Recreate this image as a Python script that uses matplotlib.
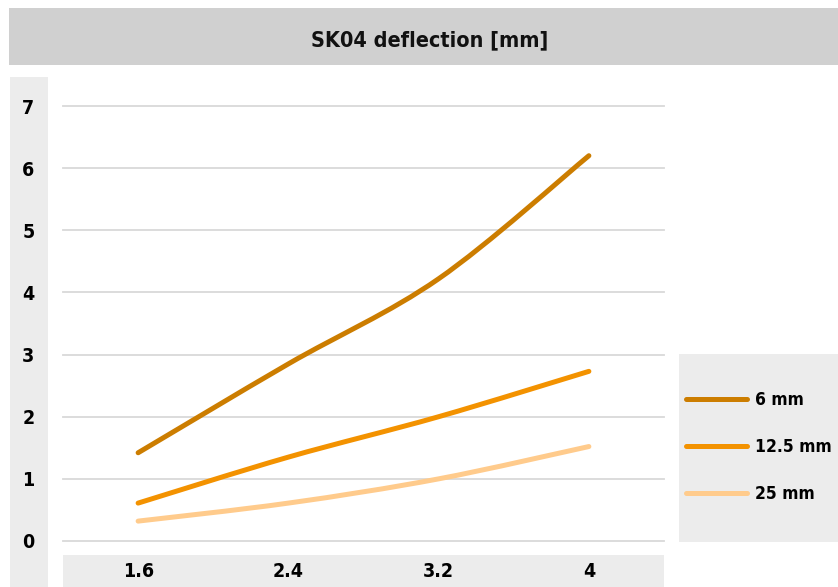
import matplotlib
matplotlib.use('Agg')
import matplotlib.pyplot as plt
from matplotlib.path import Path
from matplotlib.patches import PathPatch, Rectangle
from matplotlib.lines import Line2D
import numpy as np

# ---- data ----
categories = ['1.6', '2.4', '3.2', '4']
s_6mm = [1.42, 2.85, 4.22, 6.20]
s_12mm = [0.61, 1.35, 2.00, 2.73]
s_25mm = [0.32, 0.61, 1.00, 1.52]
series_names = ['6 mm', '12.5 mm', '25 mm']
y_ticks = [0, 1, 2, 3, 4, 5, 6, 7]
title = 'SK04 deflection [mm]'

colors = ['#CC7D00', '#F39200', '#FFCB8C']

plt.rcParams['font.family'] = ['DejaVu Sans']
plt.rcParams['font.stretch'] = 'condensed'
plt.rcParams['font.weight'] = 'bold'

W, H = 838, 587
fig = plt.figure(figsize=(W / 100, H / 100), dpi=100)


def frect(x0, y0, x1, y1, color):
    fig.patches.append(Rectangle((x0 / W, 1 - y1 / H), (x1 - x0) / W, (y1 - y0) / H,
                                 transform=fig.transFigure, facecolor=color,
                                 edgecolor='none', zorder=-5))


frect(9, 8, 838, 65, '#D0D0D0')      # title band
frect(10, 77, 48, 587, '#ECECEC')    # y axis band
frect(63, 555, 664, 587, '#ECECEC')  # x axis band
frect(679, 354, 838, 542, '#ECECEC') # legend box

fig.text(430 / W, 1 - 40 / H, title, ha='center', va='center', fontsize=15.5,
         fontweight='bold', stretch='condensed', color='#111111')

ax = fig.add_axes([63 / W, 1 - 541 / H, 601 / W, 435 / H])
ax.set_facecolor('none')
ax.patch.set_alpha(0)
x = np.arange(len(categories))
ax.set_xlim(-0.5, len(categories) - 0.5)
ax.set_ylim(0, 7)
for s in ax.spines.values():
    s.set_visible(False)
for t in y_ticks:
    ax.axhline(t, color='#D9D9D9', lw=1.3, zorder=1, clip_on=False)

ax.set_yticks(y_ticks)
ax.set_yticklabels([str(t) for t in y_ticks], fontsize=14, fontweight='bold',
                   stretch='condensed')
ax.set_xticks(x)
ax.set_xticklabels(categories, fontsize=14, fontweight='bold', stretch='condensed')
ax.tick_params(axis='y', length=0, pad=25)
ax.tick_params(axis='x', length=0, pad=22)
for lab in ax.get_yticklabels():
    lab.set_ha('center')
for lab in ax.get_xticklabels():
    lab.set_va('center')


def smooth_path(xs, ys, k=1 / 6):
    xs = np.asarray(xs, float)
    ys = np.asarray(ys, float)
    n = len(xs)
    verts = [(xs[0], ys[0])]
    codes = [Path.MOVETO]
    for i in range(n - 1):
        p0 = np.array([xs[max(i - 1, 0)], ys[max(i - 1, 0)]])
        p1 = np.array([xs[i], ys[i]])
        p2 = np.array([xs[i + 1], ys[i + 1]])
        p3 = np.array([xs[min(i + 2, n - 1)], ys[min(i + 2, n - 1)]])
        c1 = p1 + (p2 - p0) * k
        c2 = p2 - (p3 - p1) * k
        verts += [tuple(c1), tuple(c2), tuple(p2)]
        codes += [Path.CURVE4] * 3
    return Path(verts, codes)


handles = []
for vals, c, name in zip([s_6mm, s_12mm, s_25mm], colors, series_names):
    patch = PathPatch(smooth_path(x, vals), facecolor='none', edgecolor=c, lw=3.6,
                      capstyle='round', joinstyle='round', zorder=3, clip_on=False)
    ax.add_patch(patch)
    handles.append(Line2D([], [], color=c, lw=3.6, solid_capstyle='round'))

leg = fig.legend(handles, series_names, loc='center left',
                 bbox_to_anchor=(686 / W, 1 - 447 / H), frameon=False,
                 prop={'size': 12.5, 'weight': 'bold', 'stretch': 'condensed'},
                 handlelength=3.5, handletextpad=0.5, labelspacing=1.65,
                 borderpad=0, borderaxespad=0)

fig.savefig('out.png', dpi=100)
